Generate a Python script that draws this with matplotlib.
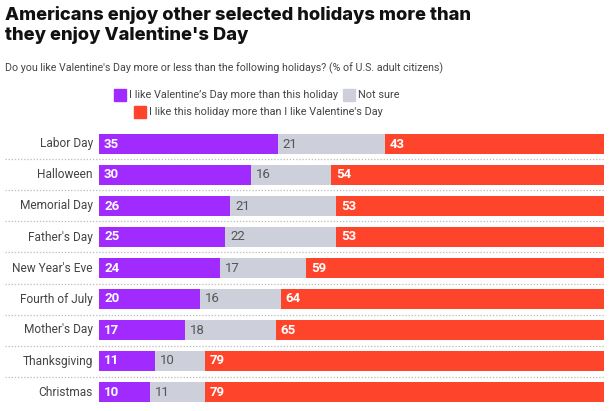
import matplotlib.pyplot as plt
from matplotlib.patches import Rectangle
from matplotlib.transforms import blended_transform_factory

holidays = ["Labor Day", "Halloween", "Memorial Day", "Father's Day", "New Year's Eve",
            "Fourth of July", "Mother's Day", "Thanksgiving", "Christmas"]
like_vday_more = [35, 30, 26, 25, 24, 20, 17, 11, 10]
not_sure = [21, 16, 21, 22, 17, 16, 18, 10, 11]
like_holiday_more = [43, 54, 53, 53, 59, 64, 65, 79, 79]

series_names = ["I like Valentine’s Day more than this holiday", "Not sure",
                "I like this holiday more than I like Valentine's Day"]
colors = ["#A12AFF", "#CDD0DA", "#FF442C"]

plt.rcParams['font.family'] = ['Roboto', 'DejaVu Sans']

W, H = 612, 411
fig = plt.figure(figsize=(W / 100, H / 100), dpi=100)

def fx(px):
    return px / W

def fy(py):
    return 1 - py / H

# plot area in pixel coordinates
left, right = 99, 604
top, bottom = 128.5, 407.5
ax = fig.add_axes([fx(left), fy(bottom), fx(right) - fx(left), (bottom - top) / H])

n = len(holidays)
ypos = list(range(n))
bh = 0.65

# each row is stretched to the full width (rows don't all sum to exactly 100)
series = [like_vday_more, not_sure, like_holiday_more]
totals = [sum(t) for t in zip(*series)]

lefts = [0] * n
for vals, col, dark in zip(series, colors, [False, True, False]):
    widths = [v / t * 100 for v, t in zip(vals, totals)]
    ax.barh(ypos, widths, left=lefts, height=bh, color=col, edgecolor='none')
    for i, v in enumerate(vals):
        ax.text(lefts[i] + 1.0, i, str(v), va='center', ha='left', fontsize=9.5,
                color='#555555' if dark else 'white',
                fontweight='normal' if dark else 'bold')
    lefts = [a + b for a, b in zip(lefts, widths)]

ax.set_xlim(0, 100)
ax.set_ylim(n - 0.5, -0.5)
ax.axis('off')

# holiday labels
for i, h in enumerate(holidays):
    ax.text(-1.2, i, h, ha='right', va='center', fontsize=8.6, color='#444444')

# dotted separators
tr = blended_transform_factory(fig.transFigure, ax.transData)
for i in range(n - 1):
    ax.plot([fx(5), fx(605)], [i + 0.5, i + 0.5], transform=tr, clip_on=False,
            color='#BBBBBB', linestyle=(0, (1, 1.5)), linewidth=0.9)

# title and subtitle
fig.text(fx(5), fy(25), "Americans enjoy other selected holidays more than\nthey enjoy Valentine's Day",
         ha='left', va='center', fontsize=13.2, fontweight='heavy', color='#111111',
         family=['Inter', 'DejaVu Sans'], linespacing=1.2)
fig.text(fx(5), fy(68), "Do you like Valentine's Day more or less than the following holidays? (% of U.S. adult citizens)",
         ha='left', va='center', fontsize=7.7, color='#444444')

# legend
legend_items = [(114, 95, 0), (343, 95, 1), (134, 112, 2)]
for x0, yc, k in legend_items:
    fig.patches.append(Rectangle((fx(x0), fy(yc + 6)), 12 / W, 12 / H,
                                 transform=fig.transFigure, color=colors[k]))
    fig.text(fx(x0 + 15), fy(yc), series_names[k], ha='left', va='center',
             fontsize=7.8, color='#444444')

fig.savefig("out.png", dpi=100)
